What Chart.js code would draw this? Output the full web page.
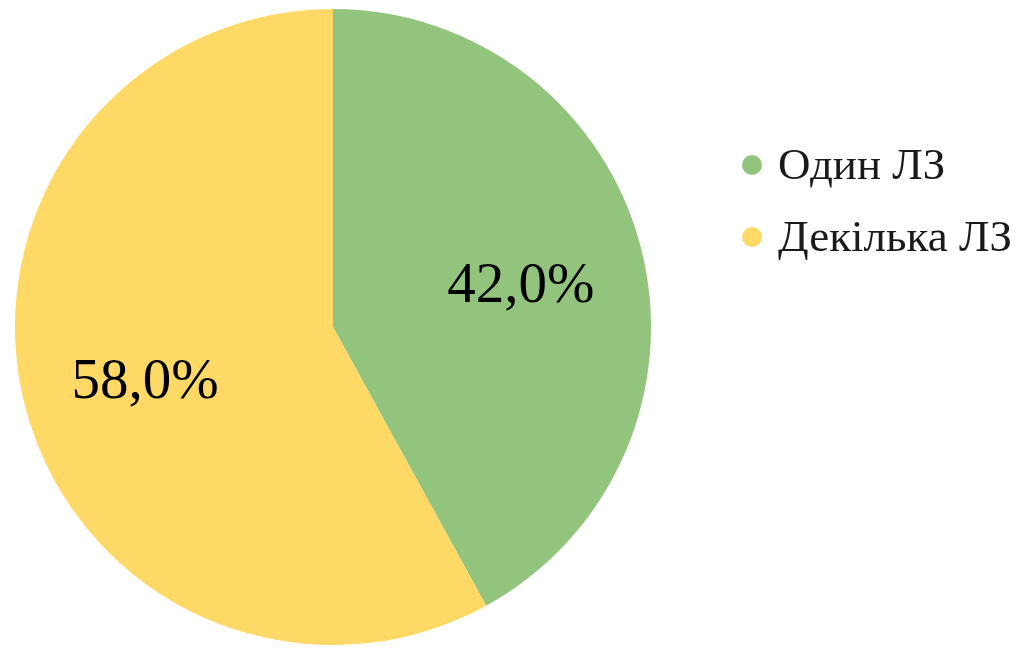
<!DOCTYPE html>
<html>
<head>
<meta charset="utf-8">
<script src="https://cdn.jsdelivr.net/npm/chart.js@4"></script>
<style>
  html, body { margin: 0; padding: 0; background: #fff; }
</style>
</head>
<body>
<canvas id="myChart" width="1020" height="651"></canvas>
<script>
const labels = ['Один ЛЗ', 'Декілька ЛЗ'];
const shares = [42.0, 58.0];
const colors = ['#93C47D', '#FFD966'];

// percentage labels inside slices
const sliceLabels = {
  id: 'sliceLabels',
  afterDatasetsDraw(chart) {
    const ctx = chart.ctx;
    const meta = chart.getDatasetMeta(0);
    ctx.save();
    ctx.font = '57px "Liberation Serif", "Times New Roman", serif';
    ctx.fillStyle = '#000';
    ctx.textAlign = 'center';
    ctx.textBaseline = 'middle';
    meta.data.forEach((arc, i) => {
      const mid = (arc.startAngle + arc.endAngle) / 2;
      const r = arc.outerRadius * 0.61;
      const x = arc.x + Math.cos(mid) * r;
      const y = arc.y + Math.sin(mid) * r;
      ctx.fillText(shares[i].toFixed(1).replace('.', ',') + '%', x, y + 8);
    });
    ctx.restore();
  }
};

// legend on the right, upper half
const sideLegend = {
  id: 'sideLegend',
  afterDraw(chart) {
    const ctx = chart.ctx;
    ctx.save();
    ctx.font = '45px "Liberation Serif", "Times New Roman", serif';
    ctx.textBaseline = 'middle';
    ctx.textAlign = 'left';
    chart.data.labels.forEach((lab, i) => {
      const y = 165 + i * 72;
      ctx.fillStyle = colors[i];
      ctx.beginPath();
      ctx.arc(752, y, 10, 0, Math.PI * 2);
      ctx.fill();
      ctx.fillStyle = '#1a1a1a';
      ctx.fillText(lab, 778, y + 2);
    });
    ctx.restore();
  }
};

const ctx = document.getElementById('myChart').getContext('2d');
new Chart(ctx, {
  type: 'pie',
  data: {
    labels: labels,
    datasets: [{
      data: shares,
      backgroundColor: colors,
      borderWidth: 0
    }]
  },
  options: {
    responsive: false,
    animation: false,
    layout: { padding: { left: 15, top: 9, right: 369, bottom: 6 } },
    plugins: {
      legend: { display: false },
      tooltip: { enabled: false }
    }
  },
  plugins: [sliceLabels, sideLegend]
});
</script>
</body>
</html>
